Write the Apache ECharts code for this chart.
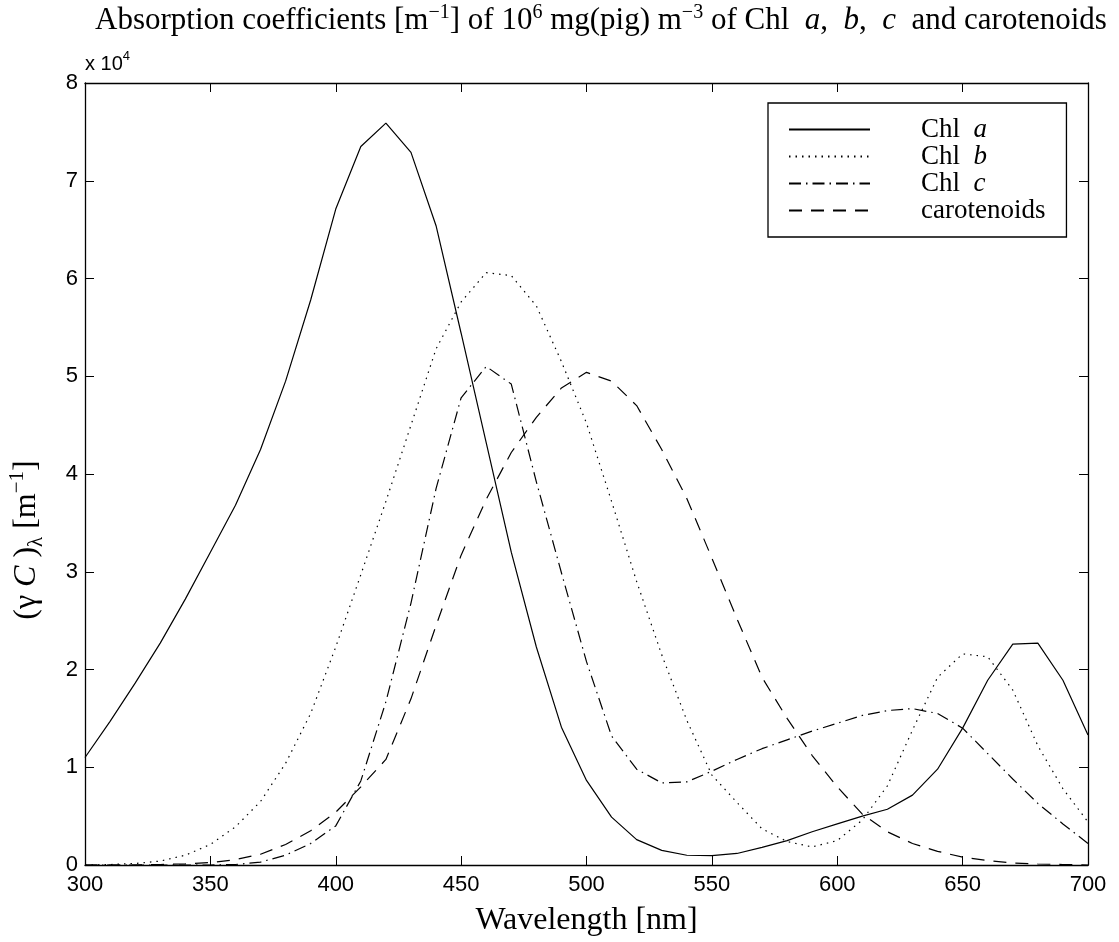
<!DOCTYPE html>
<html>
<head>
<meta charset="utf-8">
<script src="https://cdn.jsdelivr.net/npm/echarts@6/dist/echarts.min.js"></script>
<style>
  html, body { margin: 0; padding: 0; background: #fff; }
  #main { width: 1119px; height: 942px; }
</style>
</head>
<body>
<div id="main"></div>
<script>
// wavelength [nm], every 10 nm
const wavelengths = [300, 310, 320, 330, 340, 350, 360, 370, 380, 390,
  400, 410, 420, 430, 440, 450, 460, 470, 480, 490,
  500, 510, 520, 530, 540, 550, 560, 570, 580, 590,
  600, 610, 620, 630, 640, 650, 660, 670, 680, 690, 700];

// absorption, units of 1e4 m^-1
const chlA = [1.10, 1.47, 1.86, 2.27, 2.72, 3.20, 3.68, 4.25, 4.95, 5.78,
  6.71, 7.35, 7.59, 7.29, 6.54, 5.44, 4.32, 3.20, 2.23, 1.41,
  0.865, 0.49, 0.26, 0.15, 0.10, 0.095, 0.118, 0.18, 0.25, 0.34,
  0.42, 0.50, 0.57, 0.715, 0.98, 1.40, 1.89, 2.26, 2.27, 1.89, 1.33];
const chlB = [0.0, 0.005, 0.015, 0.04, 0.10, 0.21, 0.39, 0.65, 1.04, 1.55,
  2.23, 2.97, 3.72, 4.50, 5.28, 5.76, 6.06, 6.03, 5.72, 5.15,
  4.52, 3.72, 2.90, 2.15, 1.48, 0.92, 0.64, 0.37, 0.24, 0.185,
  0.25, 0.46, 0.81, 1.38, 1.92, 2.16, 2.13, 1.79, 1.22, 0.78, 0.44];
const chlC = [0, 0, 0, 0, 0, 0, 0.005, 0.03, 0.10, 0.22,
  0.40, 0.86, 1.67, 2.68, 3.85, 4.78, 5.10, 4.92, 3.92, 2.99,
  2.08, 1.32, 0.98, 0.84, 0.85, 0.96, 1.08, 1.19, 1.28, 1.37,
  1.45, 1.53, 1.58, 1.60, 1.55, 1.40, 1.14, 0.88, 0.63, 0.42, 0.22];
const carot = [0, 0, 0, 0.005, 0.012, 0.025, 0.055, 0.11, 0.21, 0.35,
  0.54, 0.80, 1.08, 1.70, 2.45, 3.17, 3.74, 4.22, 4.58, 4.88,
  5.04, 4.95, 4.70, 4.25, 3.75, 3.14, 2.52, 1.92, 1.50, 1.12,
  0.80, 0.52, 0.34, 0.22, 0.14, 0.08, 0.045, 0.02, 0.01, 0.005, 0];

const seriesNames = ['Chl a', 'Chl b', 'Chl c', 'carotenoids'];
const xTicks = [300, 350, 400, 450, 500, 550, 600, 650, 700];
const yTicks = [0, 1, 2, 3, 4, 5, 6, 7, 8];

const serif = '"Liberation Serif", "Times New Roman", serif';
const sans = '"Liberation Sans", Helvetica, Arial, sans-serif';

function pairs(ys) {
  return wavelengths.map((w, i) => [w, ys[i]]);
}

const chart = echarts.init(document.getElementById('main'), null, { renderer: 'canvas' });

// axis look shared by the 4 sides (matlab box)
function xAx(pos, show) {
  return {
    type: 'value', position: pos, min: xTicks[0], max: xTicks[xTicks.length - 1], interval: 50,
    axisLine: { show: true, onZero: false, lineStyle: { color: '#000', width: 1.3 } },
    axisTick: { show: true, inside: true, length: 9, lineStyle: { color: '#000', width: 1 } },
    axisLabel: { show: show, color: '#000', fontFamily: sans, fontSize: 22, margin: 9 },
    splitLine: { show: false }
  };
}
function yAx(pos, show) {
  return {
    type: 'value', position: pos, min: yTicks[0], max: yTicks[yTicks.length - 1], interval: 1,
    axisLine: { show: true, onZero: false, lineStyle: { color: '#000', width: 1.3 } },
    axisTick: { show: true, inside: true, length: 9, lineStyle: { color: '#000', width: 1 } },
    axisLabel: { show: show, color: '#000', fontFamily: sans, fontSize: 22, margin: 7 },
    splitLine: { show: false }
  };
}

const xMain = xAx('bottom', true);
xMain.name = 'Wavelength [nm]';
xMain.nameLocation = 'middle';
xMain.nameGap = 40;
xMain.nameTextStyle = { color: '#000', fontFamily: serif, fontSize: 32 };

const lineTypes = ['solid', [1.5, 5], [12, 5, 1.5, 5], [13, 9]];
const datas = [chlA, chlB, chlC, carot];

const option = {
  backgroundColor: '#fff',
  animation: false,
  title: {
    text: '{n|Absorption coefficients [m}{s|−1}{n|] of 10}{s|6}{n| mg(pig) m}{s|−3}{n| of Chl  }{i|a}{n|,  }{i|b}{n|,  }{i|c}{n|  and carotenoids}',
    left: 90, top: -2,
    textStyle: {
      fontWeight: 'normal',
      rich: {
        n: { fontFamily: serif, fontSize: 31, fontWeight: 'normal', color: '#000', lineHeight: 36, verticalAlign: 'middle' },
        i: { fontFamily: serif, fontSize: 31, fontStyle: 'italic', fontWeight: 'normal', color: '#000', lineHeight: 36, verticalAlign: 'middle' },
        s: { fontFamily: serif, fontSize: 20, fontWeight: 'normal', color: '#000', lineHeight: 20, verticalAlign: 'top' }
      }
    }
  },
  legend: {
    data: seriesNames,
    orient: 'vertical',
    left: 768, top: 103,
    backgroundColor: '#fff',
    borderColor: '#000', borderWidth: 1.3, borderRadius: 0,
    padding: [13, 21, 13, 20],
    itemWidth: 81, itemHeight: 14, itemGap: 0,
    itemStyle: { opacity: 0 },
    formatter: function (name) {
      if (name.indexOf('Chl') === 0) {
        return '{g|}{n|Chl  }{i|' + name.slice(4) + '}';
      }
      return '{g|}{n|' + name + '}';
    },
    textStyle: {
      fontFamily: serif, fontSize: 27, lineHeight: 27,
      rich: {
        g: { width: 46 },
        n: { fontFamily: serif, fontSize: 27, color: '#000', lineHeight: 27 },
        i: { fontFamily: serif, fontSize: 27, fontStyle: 'italic', color: '#000', lineHeight: 27 }
      }
    }
  },
  grid: { left: 85, right: 31, top: 83, bottom: 69, containLabel: false },
  xAxis: [xMain, xAx('top', false)],
  yAxis: [yAx('left', true), yAx('right', false)],
  graphic: [{
    type: 'text', left: 85, top: 50,
    style: {
      text: '{a|x 10}{b|4}',
      rich: {
        a: { fontFamily: sans, fontSize: 20, fill: '#000', lineHeight: 24, verticalAlign: 'bottom' },
        b: { fontFamily: sans, fontSize: 13, fill: '#000', lineHeight: 13, verticalAlign: 'top' }
      }
    }
  }, {
    // y axis title, rotated
    type: 'text', x: 27, y: 540, rotation: Math.PI / 2,
    style: {
      text: '{p|(γ }{i|C}{p| )}{sub|λ}{p| [m}{sup|−1}{p|]}',
      align: 'center', verticalAlign: 'middle',
      rich: {
        p: { fontFamily: serif, fontSize: 32, fill: '#000', lineHeight: 40, verticalAlign: 'middle' },
        i: { fontFamily: serif, fontSize: 32, fontStyle: 'italic', fill: '#000', lineHeight: 40, verticalAlign: 'middle' },
        sub: { fontFamily: serif, fontSize: 21, fill: '#000', lineHeight: 21, verticalAlign: 'bottom' },
        sup: { fontFamily: serif, fontSize: 21, fill: '#000', lineHeight: 21, verticalAlign: 'top' }
      }
    }
  }],
  series: seriesNames.map((name, k) => ({
    name: name,
    type: 'line',
    xAxisIndex: 0, yAxisIndex: 0,
    data: pairs(datas[k]),
    showSymbol: false,
    symbol: 'none',
    symbolSize: 0,
    smooth: false,
    color: '#000',
    lineStyle: { color: '#000', width: 1.2, type: lineTypes[k] },
    emphasis: { disabled: true }
  }))
};

chart.setOption(option);
</script>
</body>
</html>
